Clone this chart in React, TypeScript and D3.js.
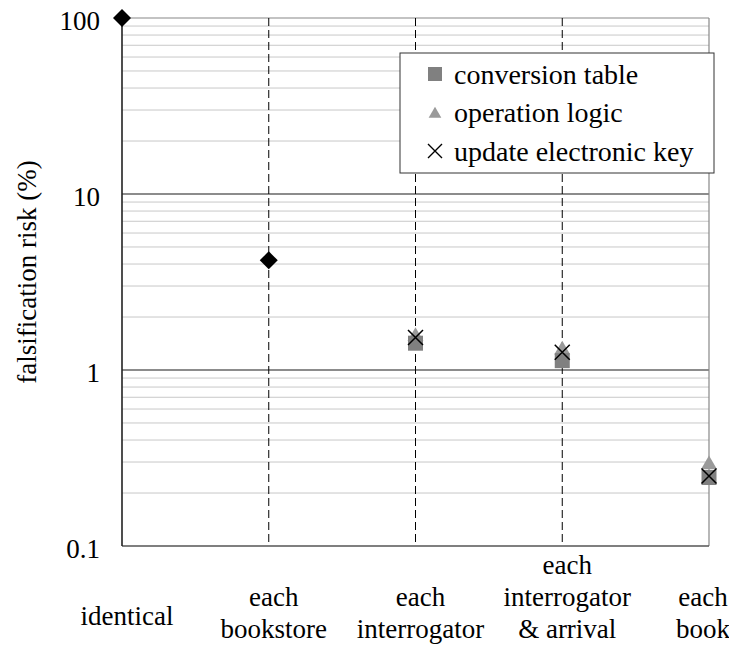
import React from 'react'
import * as d3 from 'd3'

const categories = ['identical', 'bookstore', 'interrogator', 'arrival', 'book']
const categoryLabels = [
  ['identical'],
  ['each', 'bookstore'],
  ['each', 'interrogator'],
  ['each', 'interrogator', '& arrival'],
  ['each', 'book'],
]
const commonRisk = [100, 4.2, null, null, null]
const conversionTable = [null, null, 1.42, 1.13, 0.245]
const operationLogic = [null, null, 1.55, 1.3, 0.29]
const updateKey = [null, null, 1.53, 1.26, 0.25]
const yTicks = [0.1, 1, 10, 100]
const legendNames = ['conversion table', 'operation logic', 'update electronic key']

const width = 729
const height = 646
const left = 122
const right = 709
const top = 18
const bottom = 546
const fontStyle = { fontFamily: '"Times New Roman", Tinos, FreeSerif, serif', fontSize: '27px' }
const legendFont = { ...fontStyle, fontSize: '28px' }

const x = d3.scalePoint<string>().domain(categories).range([left, right]).padding(0)
const y = d3.scaleLog().domain([0.1, 100]).range([bottom, top])

const minorTicks: number[] = []
for (let p = -1; p < 2; p++) {
  for (let m = 2; m < 10; m++) minorTicks.push(m * Math.pow(10, p))
}

const points = (vals: (number | null)[]) =>
  categories
    .map((c, i) => ({ c, v: vals[i] }))
    .filter((d) => d.v !== null) as { c: string; v: number }[]

const tri = (size: number) => d3.symbol().type(d3.symbolTriangle).size(size)()!
const cross = (cx: number, cy: number, r: number) =>
  `M${cx - r},${cy - r}L${cx + r},${cy + r}M${cx - r},${cy + r}L${cx + r},${cy - r}`
const diamond = (cx: number, cy: number, r: number) =>
  `M${cx},${cy - r}L${cx + r},${cy}L${cx},${cy + r}L${cx - r},${cy}Z`

const App = () => {
  const sq = 15
  const lx = 435
  const rows = [74, 112, 151]
  return (
    <svg width={width} height={height} style={{ position: 'absolute', left: 0, top: 0, background: '#fff' }}>
      {/* minor grid */}
      {minorTicks.map((t) => (
        <line key={t} x1={left} x2={right} y1={y(t)} y2={y(t)} stroke="#c8c8c8" strokeWidth={1} />
      ))}
      {/* major grid */}
      {[1, 10].map((t) => (
        <line key={t} x1={left} x2={right} y1={y(t)} y2={y(t)} stroke="#666" strokeWidth={1.6} />
      ))}
      <line x1={left} x2={right} y1={y(100)} y2={y(100)} stroke="#888" strokeWidth={1.2} />
      {/* dashed category lines */}
      {categories.slice(1, 4).map((c) => (
        <line key={c} x1={x(c)} x2={x(c)} y1={top} y2={bottom} stroke="#000" strokeWidth={1} strokeDasharray="8,4" />
      ))}
      {/* borders */}
      <line x1={right} x2={right} y1={top} y2={bottom} stroke="#888" strokeWidth={1.2} />
      <line x1={left} x2={right} y1={bottom} y2={bottom} stroke="#555" strokeWidth={1.4} />
      <line x1={left} x2={left} y1={top} y2={bottom} stroke="#222" strokeWidth={1.6} />

      {/* y ticks */}
      {yTicks.map((t) => (
        <text key={t} x={100} y={y(t) + 12} textAnchor="end" style={fontStyle}>
          {String(t)}
        </text>
      ))}
      <text transform={`translate(36,272) rotate(-90)`} textAnchor="middle" style={fontStyle}>
        falsification risk (%)
      </text>

      {/* x labels */}
      {categories.map((c, i) => {
        const lines = categoryLabels[i]
        const base = lines.length === 1 ? 625 : 638
        return lines.map((ln, j) => (
          <text
            key={c + j}
            x={Math.min(x(c)! + 5, 703)}
            y={base - (lines.length - 1 - j) * 32}
            textAnchor="middle"
            style={fontStyle}
          >
            {ln}
          </text>
        ))
      })}

      {/* legend box */}
      <rect x={400} y={53} width={314} height={120} fill="#fff" stroke="#333" strokeWidth={1} />

      {/* operation logic */}
      {points(operationLogic).map((d) => (
        <path key={d.c} d={tri(110)} transform={`translate(${x(d.c)},${y(d.v)})`} fill="#9a9a9a" />
      ))}
      {/* conversion table */}
      {points(conversionTable).map((d) => (
        <rect key={d.c} x={x(d.c)! - sq / 2} y={y(d.v) - sq / 2} width={sq} height={sq} fill="#808080" />
      ))}
      {/* update electronic key */}
      {points(updateKey).map((d) => (
        <path key={d.c} d={cross(x(d.c)!, y(d.v), 7.5)} stroke="#000" strokeWidth={1.5} fill="none" />
      ))}
      {/* common */}
      {points(commonRisk).map((d) => (
        <path key={d.c} d={diamond(x(d.c)!, y(d.v), 9)} fill="#000" />
      ))}

      {/* legend entries */}
      <rect x={lx - 7} y={rows[0] - 7} width={14} height={14} fill="#808080" />
      <path d={tri(70)} transform={`translate(${lx},${rows[1] + 2})`} fill="#9a9a9a" />
      <path d={cross(lx, rows[2], 7)} stroke="#000" strokeWidth={1.4} fill="none" />
      {legendNames.map((n, i) => (
        <text key={n} x={454} y={rows[i] + 10} style={legendFont}>
          {n}
        </text>
      ))}
    </svg>
  )
}

export default App
